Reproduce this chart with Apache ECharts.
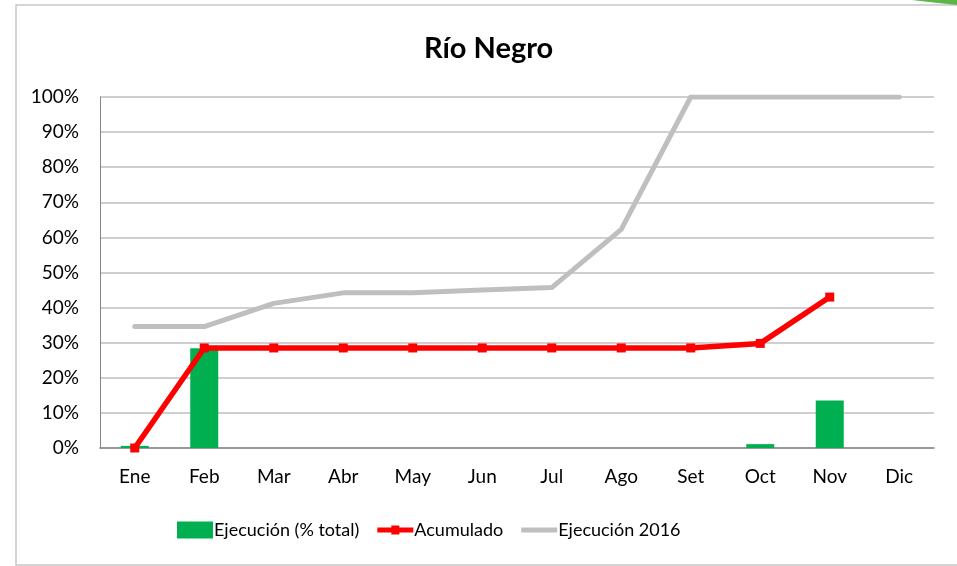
<!DOCTYPE html>
<html>
<head>
<meta charset="utf-8">
<script src="https://cdn.jsdelivr.net/npm/echarts@6/dist/echarts.min.js"></script>
<style>
html,body{margin:0;padding:0;background:#fff;}
#chart{width:957px;height:566px;}
</style>
</head>
<body>
<div id="chart"></div>
<script>
const categories = ['Ene','Feb','Mar','Abr','May','Jun','Jul','Ago','Set','Oct','Nov','Dic'];
const ejecucionPct = [0.6, 28.4, null, null, null, null, null, null, null, 1.1, 13.5, null];
const acumulado = [0, 28.5, 28.5, 28.5, 28.5, 28.5, 28.5, 28.5, 28.5, 29.8, 43.0, null];
const ejecucion2016 = [34.6, 34.6, 41.2, 44.2, 44.2, 45.0, 45.7, 62.3, 100, 100, 100, 100];
const seriesNames = ['Ejecución (% total)', 'Acumulado', 'Ejecución 2016'];
const titleText = 'Río Negro';

const font = 'Lato';
const chart = echarts.init(document.getElementById('chart'));
chart.setOption({
  backgroundColor: '#ffffff',
  animation: false,
  textStyle: { fontFamily: font },
  title: {
    text: titleText,
    left: 419,
    top: 29,
    textStyle: { fontFamily: font, fontSize: 29, fontWeight: 'bold', color: '#000' }
  },
  graphic: [
    { type: 'rect', shape: { x: 16, y: 5, width: 960, height: 560 },
      style: { fill: 'none', stroke: '#c8c8c8', lineWidth: 1.5 }, silent: true },
    { type: 'polygon', shape: { points: [[912,0],[957,0],[957,5],[938,3]] },
      style: { fill: '#5cb646' }, silent: true }
  ],
  legend: {
    left: 172,
    top: 516,
    itemWidth: 36,
    itemHeight: 17,
    itemGap: 18,
    textStyle: { fontFamily: font, fontSize: 18, color: '#000', padding: [0,0,0,-4] },
    data: [
      { name: seriesNames[0], icon: 'rect' },
      { name: seriesNames[1], icon: 'path://M0,0 L0,17 L0,0 Z M0,6 L36,6 L36,11 L0,11 Z M14,4 L22,4 L22,13 L14,13 Z' },
      { name: seriesNames[2], icon: 'path://M0,0 L0,17 L0,0 Z M0,6 L36,6 L36,11 L0,11 Z' }
    ]
  },
  grid: { left: 100, right: 23, top: 97, bottom: 118, containLabel: false },
  xAxis: {
    type: 'category',
    data: categories,
    axisLine: { lineStyle: { color: '#868686', width: 1.5 } },
    axisTick: { show: false },
    axisLabel: { fontFamily: font, fontSize: 19, color: '#000', margin: 19 }
  },
  yAxis: {
    type: 'value',
    min: 0, max: 100, interval: 10,
    axisLine: { show: true, lineStyle: { color: '#868686', width: 1 } },
    axisTick: { show: false },
    axisLabel: { fontFamily: font, fontSize: 19, color: '#000', margin: 21, formatter: '{value}%' },
    splitLine: { lineStyle: { color: '#bfbfbf', width: 1.5 } }
  },
  series: [
    { name: seriesNames[0], type: 'bar', data: ejecucionPct, barWidth: 28,
      itemStyle: { color: '#00b050' }, z: 2 },
    { name: seriesNames[1], type: 'line', data: acumulado, symbol: 'rect', symbolSize: 9,
      showAllSymbol: true,
      lineStyle: { color: '#ff0000', width: 5.5 }, itemStyle: { color: '#ff0000' }, z: 4 },
    { name: seriesNames[2], type: 'line', data: ejecucion2016, symbol: 'none',
      lineStyle: { color: '#bfbfbf', width: 5, cap: 'round', join: 'round' },
      itemStyle: { color: '#bfbfbf' }, z: 3 }
  ]
});
</script>
</body>
</html>
